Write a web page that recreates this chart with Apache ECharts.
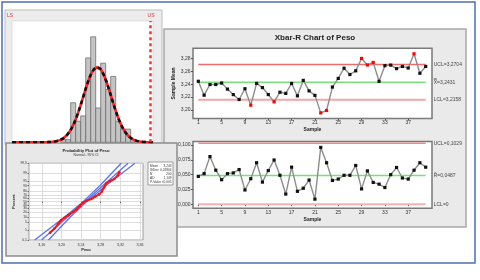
<!DOCTYPE html>
<html><head><meta charset="utf-8">
<script src="https://cdn.jsdelivr.net/npm/echarts@6/dist/echarts.min.js"></script>
<style>html,body{margin:0;padding:0;background:#fff}#c{width:480px;height:280px}</style>
</head><body><div id="c"></div>
<script>
// ---------- Xbar-R data ----------
const samples = [1,2,3,4,5,6,7,8,9,10,11,12,13,14,15,16,17,18,19,20,21,22,23,24,25,26,27,28,29,30,31,32,33,34,35,36,37,38,39,40];
const xbarValues = [3.2444,3.2229,3.2394,3.2394,3.2417,3.2323,3.2238,3.2162,3.2329,3.2074,3.2412,3.2347,3.2239,3.2126,3.2275,3.2257,3.2410,3.2219,3.2458,3.2296,3.2226,3.1955,3.1992,3.2355,3.2489,3.2647,3.2549,3.2606,3.2798,3.2697,3.2736,3.2444,3.2686,3.2695,3.2640,3.2674,3.2650,3.2870,3.2568,3.2674];
const rangeValues = [0.0471,0.0517,0.0805,0.0575,0.0414,0.0517,0.0529,0.0586,0.0241,0.0431,0.0701,0.0374,0.0569,0.0747,0.0489,0.0172,0.0626,0.0218,0.0270,0.0408,0.0086,0.0960,0.0701,0.0402,0.0425,0.0489,0.0489,0.0655,0.0259,0.0563,0.0368,0.0339,0.0282,0.0500,0.0621,0.0443,0.0425,0.0575,0.0701,0.0626];
const xbarOutSamples = [10,14,22,23,29,30,31,38];
const xbarUCL = 3.2704, xbarCL = 3.2431, xbarLCL = 3.2158;
const rUCL = 0.1029, rCL = 0.0487, rLCL = 0;
const sampleTicks = [1,5,9,13,17,21,25,29,33,37];
const xbarTicks = [3.20,3.22,3.24,3.26,3.28];
const rTicks = [0,0.025,0.05,0.075,0.1];

// ---------- Histogram data ----------
const binStarts = [3.17,3.18,3.19,3.20,3.21,3.22,3.23,3.24,3.25,3.26,3.27,3.28,3.29,3.30,3.31];
const binCounts = [1,1,15,8,10,32,40,13,30,20,25,8,5,5,1];
const binWidth = 0.01;
const fitMean = 3.2431, fitSigma = 0.028, fitN = 200;
const specLower = 3.0726, specUpper = 3.3546;

// ---------- Probability plot data ----------
const probPctTicks = [0.1,1,5,10,20,30,40,50,60,70,80,90,95,99,99.9];
const probValTicks = [3.16,3.20,3.24,3.28,3.32,3.36];
const probPointPct = [0.6,1.5,3.9,6.7,9.7,13.8,20.9,27.4,37,47.6,53.2,58.3,65.9,72.2,79.1,87.3,92.8,95.3,96.7,98.3,99.1];
const probPointVal = [3.1769,3.1856,3.1938,3.1993,3.2060,3.2141,3.2243,3.2312,3.2379,3.2447,3.2516,3.2603,3.2685,3.2766,3.2821,3.2868,3.2908,3.2990,3.3077,3.3147,3.3179];
const bandPct = [0.1,10,50,90,99.9];
const fitLineVal = [3.1596,3.2111,3.2476,3.2841,3.3356];
const ciLowVal = [3.1456,3.2051,3.2441,3.2781,3.3216];
const ciHighVal = [3.1736,3.2171,3.2511,3.2901,3.3496];
const legendNames = ['Mean','StDev','N','AD','P-Value'];
const legendValues = ['3,243','0,02804','200','1,149','<0,005'];

// ---------- helpers ----------
const FONT = '"Liberation Sans", Arial, sans-serif';
const fmt = (v,d) => v.toFixed(d).replace('.', ',');
function normInv(p){
  const a=[-3.969683028665376e+01,2.209460984245205e+02,-2.759285104469687e+02,1.383577518672690e+02,-3.066479806614716e+01,2.506628277459239e+00];
  const b=[-5.447609879822406e+01,1.615858368580409e+02,-1.556989798598866e+02,6.680131188771972e+01,-1.328068155288572e+01];
  const c=[-7.784894002430293e-03,-3.223964580411365e-01,-2.400758277161838e+00,-2.549732539343734e+00,4.374664141464968e+00,2.938163982698783e+00];
  const d=[7.784695709041462e-03,3.224671290700398e-01,2.445134137142996e+00,3.754408661907416e+00];
  const pl=0.02425; let q,r;
  if(p<pl){q=Math.sqrt(-2*Math.log(p));return (((((c[0]*q+c[1])*q+c[2])*q+c[3])*q+c[4])*q+c[5])/((((d[0]*q+d[1])*q+d[2])*q+d[3])*q+1);}
  if(p<=1-pl){q=p-0.5;r=q*q;return (((((a[0]*r+a[1])*r+a[2])*r+a[3])*r+a[4])*r+a[5])*q/(((((b[0]*r+b[1])*r+b[2])*r+b[3])*r+b[4])*r+1);}
  q=Math.sqrt(-2*Math.log(1-p));return -(((((c[0]*q+c[1])*q+c[2])*q+c[3])*q+c[4])*q+c[5])/((((d[0]*q+d[1])*q+d[2])*q+d[3])*q+1);
}
const zOf = p => normInv(p/100);
const zTicks = probPctTicks.map(zOf);

// fitted normal curve for the histogram
const curve = [];
for (let x = specLower; x <= specUpper + 1e-9; x += 0.002) {
  const pdf = Math.exp(-0.5*Math.pow((x-fitMean)/fitSigma,2))/(fitSigma*Math.sqrt(2*Math.PI));
  curve.push([x, fitN*binWidth*pdf]);
}

const tickLabel = {fontSize:5, color:'#333', fontFamily:FONT};
const axisNameStyle = {fontSize:5, fontWeight:'bold', color:'#222', fontFamily:FONT};

function limitSeries(xi, yi, val, color, width, label){
  return {type:'line', xAxisIndex:xi, yAxisIndex:yi, z:1, symbol:'none', silent:true,
    data:[[samples[0],val],[samples[samples.length-1],val]],
    lineStyle:{color:color, width:width},
    endLabel:{show:true, formatter:label, distance:8, fontSize:5, color:'#444', fontFamily:FONT}};
}

const option = {
  animation:false,
  backgroundColor:'#fff',
  graphic:[
    {type:'rect', z:-30, shape:{x:2,y:2,width:473,height:261}, style:{fill:'#fff', stroke:'#4f6db0', lineWidth:1.5}},
    {type:'rect', z:-20, shape:{x:5,y:10,width:157,height:135}, style:{fill:'#ececec', stroke:'#bdbdbd', lineWidth:1}},
    {type:'rect', z:-20, shape:{x:164,y:29,width:302,height:198}, style:{fill:'#eaeaea', stroke:'#a8a8a8', lineWidth:1.5}},
    {type:'rect', z:-10, shape:{x:6,y:143,width:171,height:113}, style:{fill:'#e8e8e8', stroke:'#8c8c8c', lineWidth:1.5}},
    {type:'text', z:-5, style:{x:10,y:15.5,text:'LS',align:'center',verticalAlign:'middle',font:'5px '+FONT,fill:'#e03030'}},
    {type:'text', z:-5, style:{x:151,y:15.5,text:'US',align:'center',verticalAlign:'middle',font:'5px '+FONT,fill:'#e03030'}},
    {type:'text', z:-5, style:{x:315,y:38,text:'Xbar-R Chart of Peso',align:'center',verticalAlign:'middle',font:'bold 8px '+FONT,fill:'#222'}},
    {type:'text', z:-5, style:{x:86,y:150.5,text:'Probability Plot of Peso',align:'center',verticalAlign:'middle',font:'bold 4.2px '+FONT,fill:'#222'}},
    {type:'text', z:-5, style:{x:86,y:155,text:'Normal - 95% CI',align:'center',verticalAlign:'middle',font:'3.4px '+FONT,fill:'#333'}},
    {type:'rect', z:-5, shape:{x:148,y:162,width:25,height:23}, style:{fill:'#fff', stroke:'#888', lineWidth:0.8}},
    {type:'group', z:-4, children: legendNames.map((n,i)=>({type:'text', style:{x:150,y:166+i*4,text:n,verticalAlign:'middle',font:'3.2px '+FONT,fill:'#333'}}))
      .concat(legendValues.map((v,i)=>({type:'text', style:{x:171.5,y:166+i*4,text:v,align:'right',verticalAlign:'middle',font:'3.2px '+FONT,fill:'#333'}})))}
  ],
  grid:[
    {left:12, top:21, width:141, height:121.3, show:true, backgroundColor:'#fff', borderColor:'#c8c8c8', borderWidth:0.5},
    {left:29, top:163.3, width:114, height:76.7, show:true, backgroundColor:'#fff', borderColor:'#888', borderWidth:0.8},
    {left:193, top:48.3, width:239, height:70.2, show:true, backgroundColor:'#fff', borderColor:'#7a7a7a', borderWidth:1.5},
    {left:193, top:141.5, width:239, height:66.8, show:true, backgroundColor:'#fff', borderColor:'#7a7a7a', borderWidth:1.5}
  ],
  xAxis:[
    {gridIndex:0, type:'value', min:specLower, max:specUpper, show:false},
    {gridIndex:1, type:'value', min:3.134, max:3.366, name:'Peso', nameLocation:'middle', nameGap:8,
      nameTextStyle:{fontSize:4, fontWeight:'bold', color:'#222', fontFamily:FONT},
      axisLine:{show:false}, axisTick:{customValues:probValTicks, length:1.5, lineStyle:{color:'#666'}},
      axisLabel:{customValues:probValTicks, formatter:v=>fmt(v,2), fontSize:3.6, color:'#333', margin:2.5, fontFamily:FONT},
      splitLine:{show:true, lineStyle:{color:'#d6d6d6', width:0.8}}},
    {gridIndex:2, type:'value', min:0.091, max:41.08, name:'Sample', nameLocation:'middle', nameGap:9,
      nameTextStyle:axisNameStyle, axisLine:{show:false},
      axisTick:{customValues:sampleTicks, length:2, lineStyle:{color:'#555'}},
      axisLabel:Object.assign({customValues:sampleTicks, margin:2}, tickLabel), splitLine:{show:false}},
    {gridIndex:3, type:'value', min:0.091, max:41.08, name:'Sample', nameLocation:'middle', nameGap:9,
      nameTextStyle:axisNameStyle, axisLine:{show:false},
      axisTick:{customValues:sampleTicks, length:2, lineStyle:{color:'#555'}},
      axisLabel:Object.assign({customValues:sampleTicks, margin:2}, tickLabel), splitLine:{show:false}}
  ],
  yAxis:[
    {gridIndex:0, type:'value', min:0, max:46, show:false},
    {gridIndex:1, type:'value', min:zOf(0.1), max:zOf(99.9), name:'Percent', nameLocation:'middle', nameGap:13,
      nameTextStyle:{fontSize:4, fontWeight:'bold', color:'#222', fontFamily:FONT},
      axisLine:{show:false}, axisTick:{customValues:zTicks, length:1.5, lineStyle:{color:'#666'}},
      axisLabel:{customValues:zTicks, fontSize:3.4, color:'#333', margin:2, fontFamily:FONT,
        formatter:v=>{const i=zTicks.findIndex(z=>Math.abs(z-v)<1e-6); return i<0?'':String(probPctTicks[i]).replace('.',',');}},
      splitLine:{show:true, lineStyle:{color:'#d6d6d6', width:0.8}}},
    {gridIndex:2, type:'value', min:3.1868, max:3.2955, name:'Sample Mean', nameLocation:'middle', nameGap:17,
      nameTextStyle:axisNameStyle, axisLine:{show:false},
      axisTick:{customValues:xbarTicks, length:2, lineStyle:{color:'#555'}},
      axisLabel:Object.assign({customValues:xbarTicks, formatter:v=>fmt(v,2), margin:2.5}, tickLabel), splitLine:{show:false}},
    {gridIndex:3, type:'value', min:-0.0069, max:0.106, axisLine:{show:false},
      axisTick:{customValues:rTicks, length:2, lineStyle:{color:'#555'}},
      axisLabel:Object.assign({customValues:rTicks, formatter:v=>fmt(v,3), margin:2.5}, tickLabel), splitLine:{show:false}}
  ],
  series:[
    {type:'custom', xAxisIndex:0, yAxisIndex:0, z:2, data:binStarts.map((s,i)=>[s,binCounts[i]]), encode:{x:0,y:1},
      renderItem:(params,api)=>{
        const s=api.value(0), c=api.value(1);
        const p0=api.coord([s,c]), p1=api.coord([s+binWidth,0]);
        return {type:'rect', shape:{x:p0[0],y:p0[1],width:p1[0]-p0[0],height:p1[1]-p0[1]},
          style:{fill:'#c4c4c4', stroke:'#6e6e6e', lineWidth:0.8}};
      }},
    {type:'line', xAxisIndex:0, yAxisIndex:0, z:3, symbol:'none', data:curve, lineStyle:{color:'#ff2020', width:2.6},
      markLine:{silent:true, symbol:'none', label:{show:false}, lineStyle:{color:'#ff3030', type:[3,3], width:2.5},
        data:[{xAxis:specLower},{xAxis:specUpper}]}},
    {type:'line', xAxisIndex:0, yAxisIndex:0, z:4, symbol:'none', data:curve, lineStyle:{color:'#111', width:2.6, type:[4,3]}},
    {type:'line', xAxisIndex:1, yAxisIndex:1, z:2, symbol:'none', data:bandPct.map((p,i)=>[ciLowVal[i],zOf(p)]), lineStyle:{color:'#5b73ee', width:1.3}},
    {type:'line', xAxisIndex:1, yAxisIndex:1, z:2, symbol:'none', data:bandPct.map((p,i)=>[fitLineVal[i],zOf(p)]), lineStyle:{color:'#5b73ee', width:1.3}},
    {type:'line', xAxisIndex:1, yAxisIndex:1, z:2, symbol:'none', data:bandPct.map((p,i)=>[ciHighVal[i],zOf(p)]), lineStyle:{color:'#5b73ee', width:1.3}},
    {type:'line', xAxisIndex:1, yAxisIndex:1, z:3, symbol:'circle', symbolSize:2.6, showSymbol:true,
      data:probPointPct.map((p,i)=>[probPointVal[i],zOf(p)]), lineStyle:{color:'#ff1010', width:2},
      itemStyle:{color:'#ff1010'}},
    limitSeries(2,2,xbarUCL,'#ef6a6a',1.5,'UCL='+fmt(xbarUCL,4)),
    limitSeries(2,2,xbarCL,'#78e078',1.5,'X\u033F='+fmt(xbarCL,4)),
    limitSeries(2,2,xbarLCL,'#f6a4a4',2,'LCL='+fmt(xbarLCL,4)),
    {type:'line', xAxisIndex:2, yAxisIndex:2, z:3, symbol:'rect', symbolSize:3.2,
      data:samples.map((s,i)=>({value:[s,xbarValues[i]], itemStyle:{color:xbarOutSamples.includes(s)?'#ff0000':'#111'}})),
      lineStyle:{color:'#8d8d8d', width:1.4}},
    limitSeries(3,3,rUCL,'#f28a8a',1.5,'UCL='+fmt(rUCL,4)),
    limitSeries(3,3,rCL,'#78e078',1.5,'R\u0304='+fmt(rCL,4)),
    limitSeries(3,3,rLCL,'#f8b2b2',2,'LCL='+rLCL),
    {type:'line', xAxisIndex:3, yAxisIndex:3, z:3, symbol:'rect', symbolSize:3.2,
      data:samples.map((s,i)=>[s,rangeValues[i]]), itemStyle:{color:'#111'},
      lineStyle:{color:'#8d8d8d', width:1.4}}
  ]
};
const chart = echarts.init(document.getElementById('c'), null, {renderer:'canvas'});
chart.setOption(option);
</script>
</body></html>
